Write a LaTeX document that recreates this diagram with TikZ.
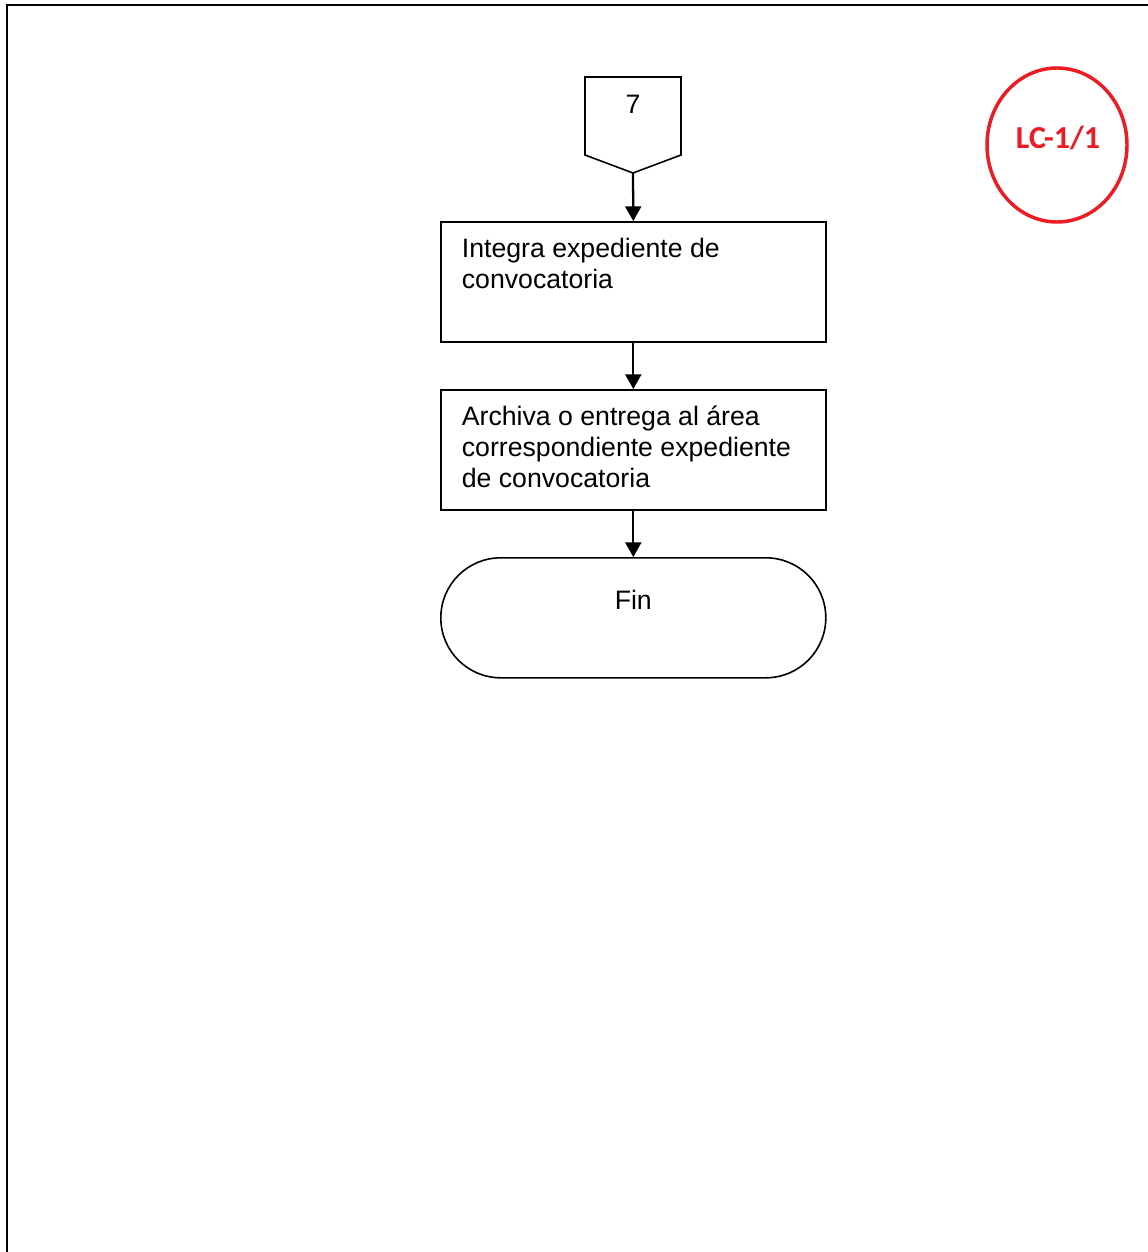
\documentclass[tikz,border=0pt]{standalone}
\usepackage{fontspec}
\setmainfont{Liberation Sans}
\newfontfamily\calib{Carlito}
\usetikzlibrary{arrows.meta,shapes.geometric}
\definecolor{stampred}{RGB}{237,28,36}
\newcommand{\boxtxt}[2]{\parbox[t][90pt][t]{288.75pt}{\leftskip=15.8pt\rightskip=0pt plus 1fil\parindent=0pt\rule{0pt}{#1}#2}}
\begin{document}
\begin{tikzpicture}[x=0.75pt,y=-0.75pt,
  procbox/.style={draw, line width=1.2pt, inner sep=0pt, minimum width=288.75pt, minimum height=90pt, anchor=north west, font=\fontsize{20}{23.25}\selectfont},
  endbox/.style={procbox, rounded corners=45pt},
  flowarrow/.style={line width=1.7pt, -{Triangle[length=11pt,width=12pt]}}]
\useasboundingbox (0,0) rectangle (1148,1252);
\draw[line width=1.7pt] (7,1252) -- (7,5) -- (1148,5);

% off-page connector
\draw[line width=1.2pt] (585,77) -- (681,77) -- (681,155) -- (633,173) -- (585,155) -- cycle;
\node[font=\fontsize{20}{23.25}\selectfont, anchor=base] (c7) at (633,114) {7};
\coordinate (c7tip) at (633,173);

\node[procbox] (b1) at (440,221) {\boxtxt{26.7pt}{Integra expediente de\\convocatoria}};
\node[procbox] (b2) at (440,389) {\boxtxt{26.7pt}{Archiva o entrega al área\\correspondiente expediente\\de convocatoria}};
\node[endbox] (fin) at (440,557) {\parbox[t][90pt][t]{288.75pt}{\centering\rule{0pt}{38.7pt}Fin}};

\draw[flowarrow] (c7tip) -- (b1.north);
\draw[flowarrow] (b1.south) -- (b2.north);
\draw[flowarrow] (b2.south) -- (fin.north);

% stamp
\node[draw=stampred, line width=2.6pt, ellipse, minimum width=105pt, minimum height=115.5pt, inner sep=0pt] (stamp) at (1057,145) {};
\node[text=stampred, font=\calib\bfseries\fontsize{24}{28}\selectfont, anchor=base] (lc) at (1058,149) {LC-1/1};
\end{tikzpicture}
\end{document}
